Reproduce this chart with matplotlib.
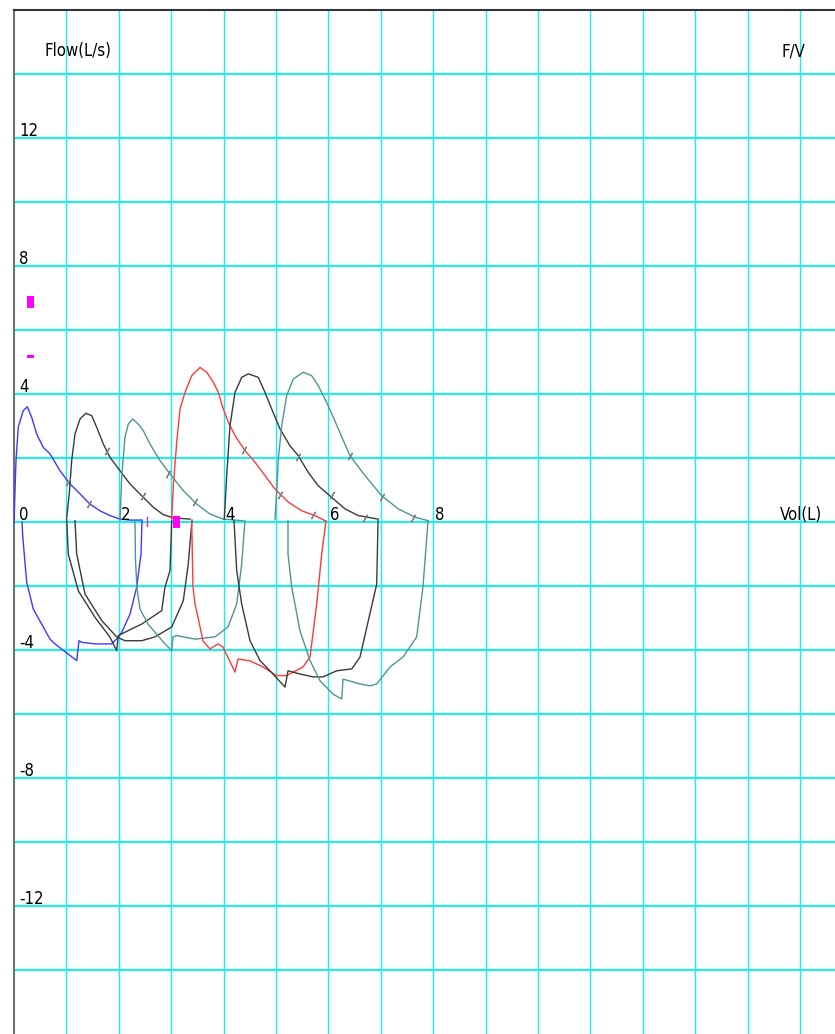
import matplotlib.pyplot as plt
import numpy as np

# Кривые поток-объём: выдох (над нулём) и вдох (под нулём)
blue_exp_v = [0.0, 0.038, 0.082, 0.177, 0.254, 0.338, 0.433, 0.559, 0.687, 0.878, 1.069, 1.260, 1.450, 1.641, 1.832, 2.023, 2.214, 2.424]
blue_exp_f = [0.0, 1.92, 2.97, 3.48, 3.60, 3.27, 2.75, 2.33, 2.13, 1.60, 1.19, 0.88, 0.56, 0.35, 0.20, 0.09, 0.06, 0.06]
blue_ins_v = [2.443, 2.424, 2.342, 2.214, 2.055, 1.990, 1.865, 1.546, 1.292, 1.240, 1.197, 1.036, 0.782, 0.687, 0.368, 0.242, 0.166, 0.153]
blue_ins_f = [0.06, -1.0, -2.03, -2.88, -3.45, -3.60, -3.81, -3.81, -3.76, -3.71, -4.33, -4.13, -3.81, -3.66, -2.72, -1.88, -0.43, 0.0]

blackA_exp_v = [1.006, 1.055, 1.101, 1.164, 1.260, 1.374, 1.483, 1.578, 1.704, 1.832, 2.023, 2.214, 2.468, 2.658, 2.849, 3.040, 3.359]
blackA_exp_f = [0.15, 0.88, 1.92, 2.75, 3.22, 3.40, 3.32, 2.96, 2.44, 2.02, 1.60, 1.19, 0.77, 0.46, 0.23, 0.13, 0.09]
blackA_ins_v = [3.397, 3.391, 3.326, 3.231, 3.010, 2.691, 2.437, 2.118, 1.960, 1.674, 1.355, 1.197, 1.164]
blackA_ins_f = [0.06, -0.06, -1.31, -2.46, -3.28, -3.59, -3.71, -3.71, -3.59, -3.08, -2.25, -1.0, 0.04]
# отдельная чёрная кривая вдоха
blackX_ins_v = [3.010, 2.977, 2.882, 2.819, 2.437, 2.309, 1.990, 1.960, 1.832, 1.546, 1.227, 1.036, 1.006]
blackX_ins_f = [0.04, -1.52, -2.03, -2.77, -3.19, -3.29, -3.55, -4.02, -3.60, -2.98, -2.15, -1.0, 0.09]

tealB_exp_v = [2.023, 2.055, 2.118, 2.181, 2.265, 2.372, 2.468, 2.595, 2.786, 2.977, 3.231, 3.487, 3.740, 3.994, 4.370]
tealB_exp_f = [0.04, 1.40, 2.65, 3.06, 3.22, 3.06, 2.85, 2.44, 1.92, 1.50, 0.98, 0.56, 0.25, 0.09, 0.04]
tealB_ins_v = [4.408, 4.345, 4.250, 4.084, 3.836, 3.454, 3.105, 3.034, 3.010, 2.882, 2.557, 2.405, 2.347, 2.318, 2.309]
tealB_ins_f = [0.04, -1.31, -2.56, -3.28, -3.59, -3.66, -3.55, -3.59, -4.02, -3.81, -3.19, -2.72, -2.09, -1.16, 0.03]

red_exp_v = [3.010, 3.040, 3.105, 3.168, 3.263, 3.391, 3.550, 3.677, 3.803, 3.899, 3.994, 4.090, 4.218, 4.408, 4.599, 4.790, 4.981, 5.235, 5.490, 5.744, 5.935]
red_exp_f = [0.09, 1.13, 2.49, 3.53, 4.05, 4.57, 4.83, 4.68, 4.37, 4.05, 3.53, 3.12, 2.70, 2.23, 1.87, 1.45, 1.03, 0.62, 0.35, 0.20, 0.04]
red_ins_v = [5.954, 5.872, 5.777, 5.649, 5.515, 5.204, 5.013, 4.752, 4.504, 4.275, 4.218, 3.989, 3.893, 3.740, 3.607, 3.511, 3.454, 3.416, 3.391]
red_ins_f = [0.04, -1.0, -2.56, -4.22, -4.53, -4.80, -4.80, -4.53, -4.34, -4.28, -4.69, -3.91, -3.81, -3.97, -3.72, -2.97, -2.56, -2.03, 0.04]

blackC_exp_v = [4.013, 4.059, 4.122, 4.218, 4.345, 4.471, 4.662, 4.790, 4.918, 5.076, 5.267, 5.426, 5.616, 5.807, 6.063, 6.317, 6.571, 6.952]
blackC_exp_f = [0.09, 1.45, 3.01, 4.05, 4.52, 4.63, 4.52, 4.05, 3.53, 2.91, 2.38, 2.07, 1.55, 1.13, 0.77, 0.41, 0.20, 0.09]
blackC_ins_v = [6.947, 6.922, 6.603, 6.445, 6.158, 5.897, 5.706, 5.458, 5.229, 5.172, 4.942, 4.695, 4.504, 4.345, 4.250, 4.199]
blackC_ins_f = [0.04, -1.94, -4.22, -4.59, -4.65, -4.84, -4.84, -4.75, -4.65, -5.16, -4.75, -4.33, -3.71, -2.56, -1.52, 0.04]

tealD_exp_v = [4.981, 5.013, 5.044, 5.109, 5.204, 5.330, 5.521, 5.681, 5.807, 5.998, 6.189, 6.412, 6.698, 7.017, 7.334, 7.653, 7.906]
tealD_exp_f = [0.09, 0.93, 1.97, 3.01, 3.95, 4.47, 4.68, 4.57, 4.26, 3.63, 2.91, 2.07, 1.45, 0.82, 0.41, 0.15, 0.04]
tealD_ins_v = [7.901, 7.805, 7.685, 7.424, 7.176, 6.922, 6.794, 6.603, 6.279, 6.254, 6.088, 5.840, 5.649, 5.458, 5.300, 5.229, 5.229]
tealD_ins_f = [0.04, -2.03, -3.59, -4.22, -4.53, -5.06, -5.12, -5.06, -4.91, -5.53, -5.38, -4.96, -4.33, -3.40, -2.03, -1.0, 0.04]

# засечки на кривых выдоха
tick_v = [1.036, 1.437, 1.769, 2.468, 2.945, 3.454, 4.395, 5.076, 5.712, 5.426, 6.063, 6.698, 6.412, 7.017, 7.620]
tick_f = [1.24, 0.56, 2.23, 0.82, 1.50, 0.62, 2.26, 0.84, 0.22, 2.02, 0.84, 0.125, 2.05, 0.77, 0.12]

# пурпурные отметки
mark_v = [0.31, 0.31, 3.11]
mark_f = [6.86, 5.18, 0.0]
mark_h = [0.375, 0.094, 0.344]
pin_v = 2.54

y_ticks = [12, 8, 4, 0, -4, -8, -12]
x_ticks = [2, 4, 6, 8]

BLUE = '#3a3aff'
BLACK = '#3a3a3a'
TEAL = '#4f9595'
RED = '#ff3a3a'
GRID = '#19f0f0'

curves = [
    (blue_exp_v, blue_exp_f, BLUE), (blue_ins_v, blue_ins_f, BLUE),
    (blackA_exp_v, blackA_exp_f, BLACK), (blackA_ins_v, blackA_ins_f, BLACK),
    (blackX_ins_v, blackX_ins_f, BLACK),
    (tealB_exp_v, tealB_exp_f, TEAL), (tealB_ins_v, tealB_ins_f, TEAL),
    (red_exp_v, red_exp_f, RED), (red_ins_v, red_ins_f, RED),
    (blackC_exp_v, blackC_exp_f, BLACK), (blackC_ins_v, blackC_ins_f, BLACK),
    (tealD_exp_v, tealD_exp_f, TEAL), (tealD_ins_v, tealD_ins_f, TEAL),
]

txt = dict(fontsize=12, family='DejaVu Sans', stretch='condensed', va='baseline', ha='left', zorder=6)

fig = plt.figure(figsize=(8.35, 10.34), dpi=100)
ax = fig.add_axes([14 / 835, 0, 821 / 835, 1024 / 1034])
ax.set_xlim(0, 821 / 52.4)
ax.set_ylim(-16, 16)

# сетка
for v in range(1, 16):
    ax.axvline(v, color=GRID, lw=1.0, zorder=1)
for f in range(-14, 16, 2):
    ax.axhline(f, color=GRID, lw=1.5, zorder=1)

for v, f, c in curves:
    ax.plot(v, f, color=c, lw=1.0, zorder=3)

ax.plot(tick_v, tick_f, ls='none', marker=(2, 2, -30), ms=6, mec='#808080', mew=0.9, zorder=4)

ax.bar(mark_v, mark_h, width=0.134, bottom=np.array(mark_f) - np.array(mark_h) / 2,
       color='#ff00ff', zorder=5)
ax.plot([pin_v, pin_v], [-0.12, 0.16], color='#ff00ff', lw=0.9, zorder=5)

# подписи
for f in y_ticks:
    ax.text(0.1, f + 0.06, str(f), **txt)
for v in x_ticks:
    ax.text(v + 0.04, 0.06, str(v), **txt)
ax.text(0.59, 14.55, 'Flow(L/s)', **txt)
ax.text(14.64, 14.55, 'F/V', **txt)
ax.text(14.62, 0.06, 'Vol(L)', **txt)

ax.set_xticks([])
ax.set_yticks([])
ax.spines['right'].set_visible(False)
ax.spines['bottom'].set_visible(False)
ax.spines['left'].set_color('#707070')
ax.spines['left'].set_linewidth(1.5)
ax.spines['top'].set_color('#333333')
ax.spines['top'].set_linewidth(1.5)

fig.savefig('out.png', dpi=100)
